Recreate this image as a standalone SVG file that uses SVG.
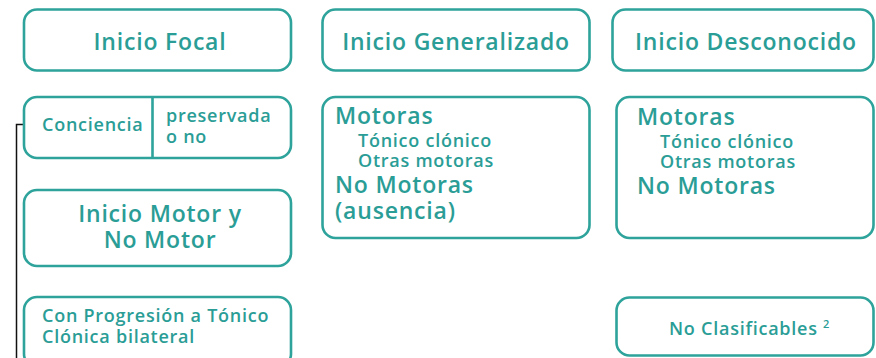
<svg xmlns="http://www.w3.org/2000/svg" width="876" height="358" viewBox="0 0 876 358">
<style>
.box{fill:#fff;stroke:#2ea39b;stroke-width:2.6}
text{font-family:"Open Sans","Noto Sans",sans-serif;font-weight:600;fill:#2a9d96}
.h{font-size:23px;letter-spacing:0.8px}
.m{font-size:18px;letter-spacing:0.75px}
.c{text-anchor:middle}
.conn{fill:none;stroke:#111;stroke-width:1.5}
</style>
<rect width="876" height="358" fill="#fff"/>
<g id="connectors">
<path class="conn" d="M16.5 358 V124.5 H40"/>
</g>
<g id="inicio-focal">
<rect class="box" x="24" y="9.5" width="267" height="61" rx="13"/>
<text class="h c" x="160" y="50">Inicio Focal</text>
</g>
<g id="conciencia">
<rect class="box" x="24" y="97" width="267" height="61" rx="13"/>
<line x1="152.5" y1="97" x2="152.5" y2="158" stroke="#2ea39b" stroke-width="2.6"/>
<text class="m" x="42" y="131">Conciencia</text>
<text class="m" x="166" y="122">preservada</text>
<text class="m" x="166" y="143">o no</text>
</g>
<g id="inicio-motor">
<rect class="box" x="24" y="190" width="267" height="76" rx="13"/>
<text class="h c" x="160" y="222">Inicio Motor y</text>
<text class="h c" x="160" y="248">No Motor</text>
</g>
<g id="progresion">
<rect class="box" x="24" y="297" width="267" height="70" rx="13"/>
<text class="m" x="42" y="322">Con Progresión a Tónico</text>
<text class="m" x="42" y="343">Clónica bilateral</text>
</g>
<g id="inicio-generalizado">
<rect class="box" x="322.5" y="9.5" width="267" height="61" rx="13"/>
<text class="h c" x="456" y="50">Inicio Generalizado</text>
</g>
<g id="motoras-generalizado">
<rect class="box" x="322.5" y="97" width="267" height="141" rx="13"/>
<text class="h" x="335" y="124">Motoras</text>
<text class="m" x="358" y="147">Tónico clónico</text>
<text class="m" x="358" y="167">Otras motoras</text>
<text class="h" x="335" y="193">No Motoras</text>
<text class="h" x="335" y="219">(ausencia)</text>
</g>
<g id="inicio-desconocido">
<rect class="box" x="612.5" y="9.5" width="261" height="61" rx="13"/>
<text class="h" x="635" y="50">Inicio Desconocido</text>
</g>
<g id="motoras-desconocido">
<rect class="box" x="616.5" y="97" width="257" height="141" rx="13"/>
<text class="h" x="637" y="125">Motoras</text>
<text class="m" x="660" y="148">Tónico clónico</text>
<text class="m" x="660" y="168">Otras motoras</text>
<text class="h" x="637" y="194">No Motoras</text>
</g>
<g id="no-clasificables">
<rect class="box" x="616.5" y="297.5" width="257" height="58" rx="13"/>
<text class="m" x="669" y="335">No Clasificables <tspan font-size="11" dy="-7">2</tspan></text>
</g>
</svg>
